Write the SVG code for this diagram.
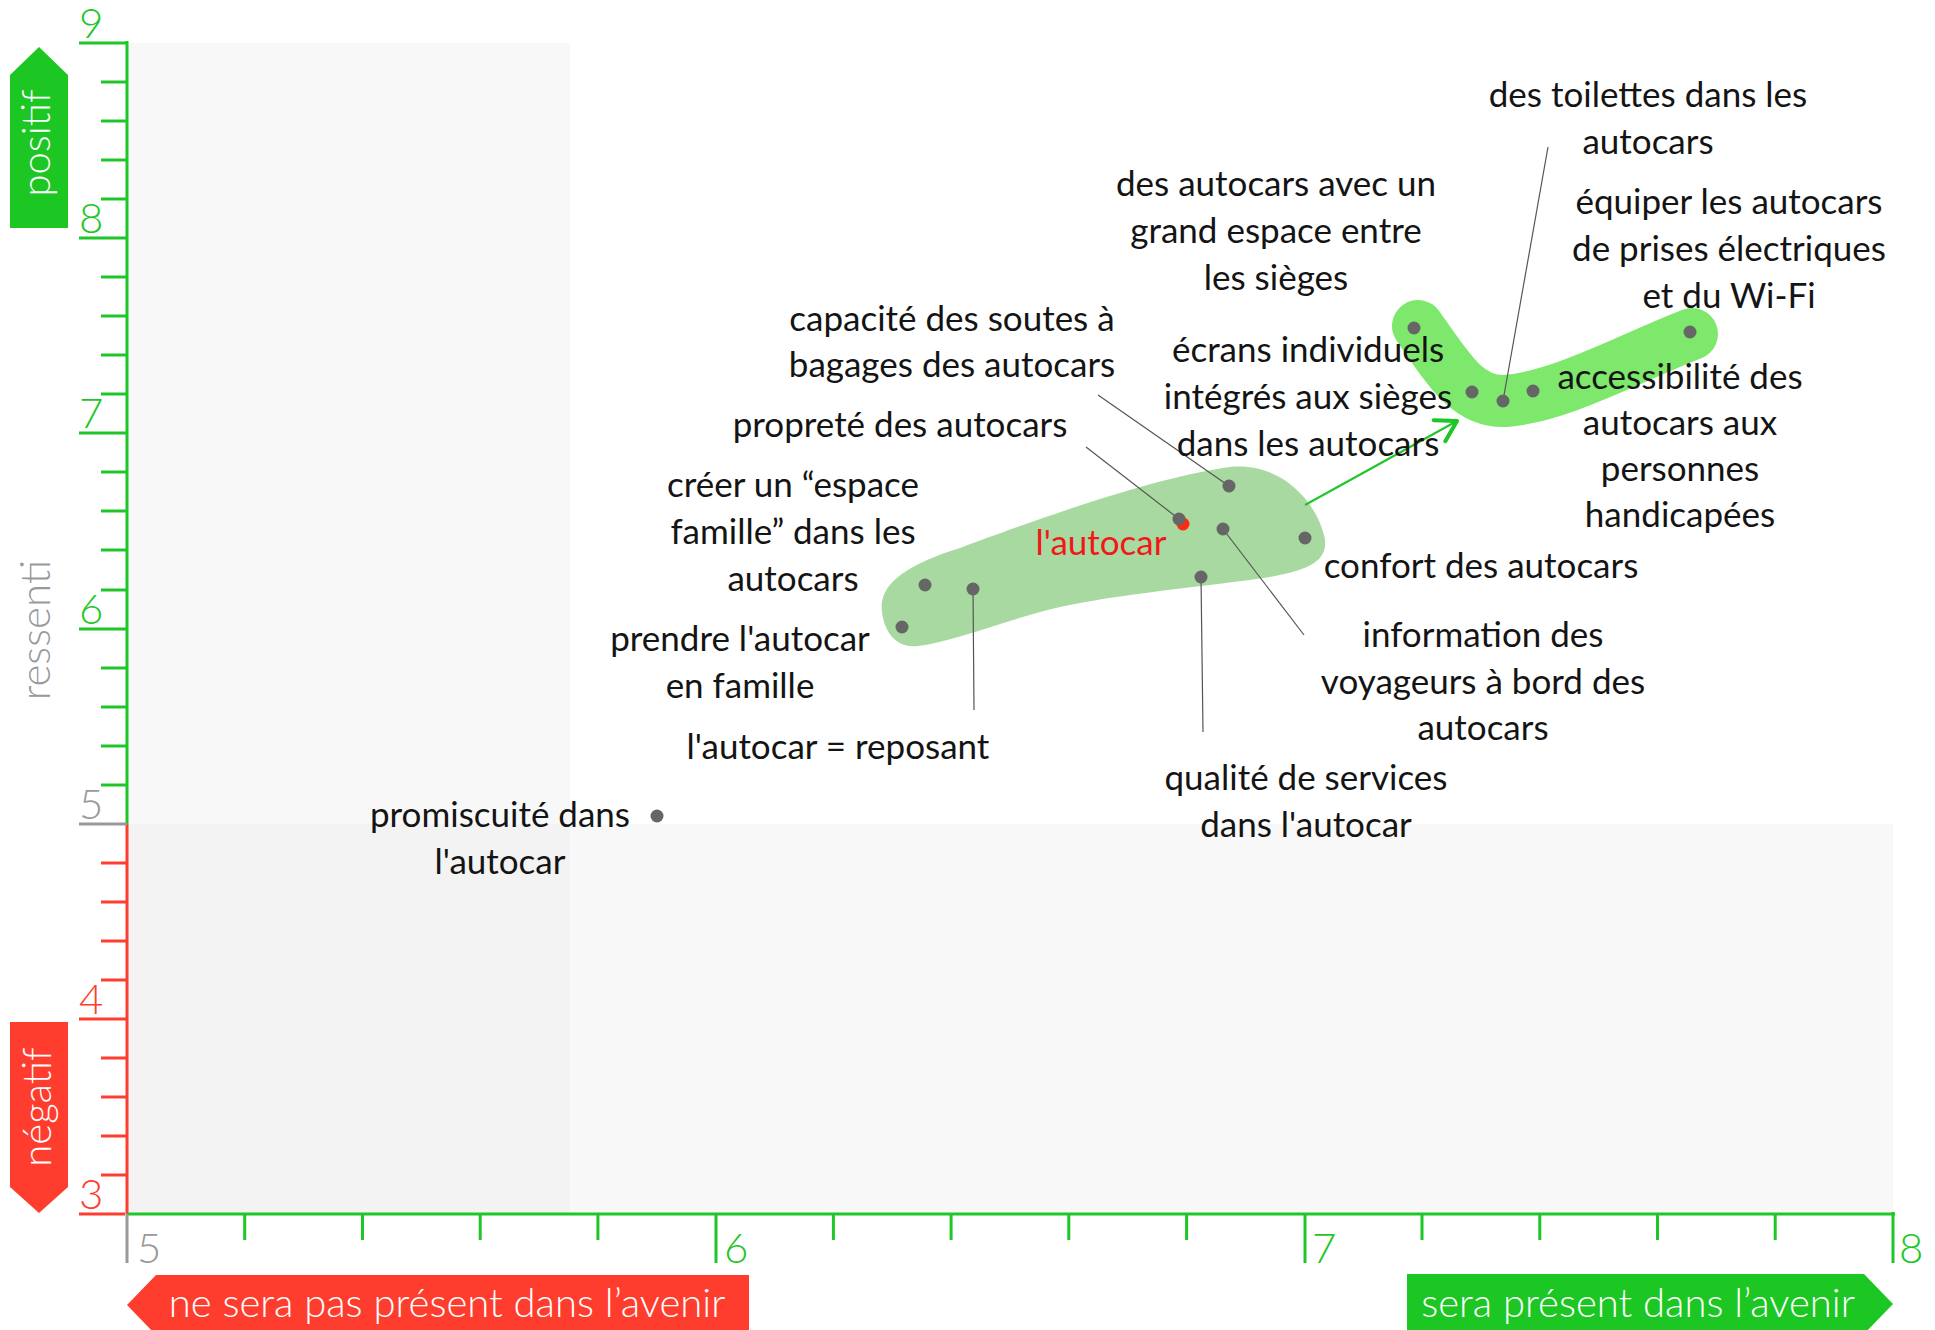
<svg xmlns="http://www.w3.org/2000/svg" width="1935" height="1330" viewBox="0 0 1935 1330">
<defs>
<style>
.lbl{font-family:Lato,"Liberation Sans",sans-serif;font-size:35px;fill:#141414;text-anchor:middle}
.ax{font-family:Lato,"Liberation Sans",sans-serif;font-weight:300;font-size:42px}
.g{fill:#1EC627}.r{fill:#FF3D2E}.gr{fill:#999}
.tg{stroke:#1EC627;stroke-width:3}.tr{stroke:#FF3D2E;stroke-width:3}.tgr{stroke:#999;stroke-width:3}
.lead{stroke:#555;stroke-width:1.2;fill:none}
.dot{fill:#666}
.band{font-family:Lato,"Liberation Sans",sans-serif;font-weight:300;font-size:40px;fill:#fff}
</style>
<marker id="ah" viewBox="0 0 30 30" refX="26" refY="15" markerWidth="30" markerHeight="30" markerUnits="userSpaceOnUse" orient="auto">
<path d="M6,3 L26,15 L6,27" fill="none" stroke="#1EC627" stroke-width="4" stroke-linecap="round" stroke-linejoin="round"/>
</marker>
</defs>
<rect width="1935" height="1330" fill="#fff"/>
<g id="background">
<rect x="127" y="43" width="443" height="781" fill="#F8F8F8"/>
<rect x="570" y="824" width="1323" height="390" fill="#F8F8F8"/>
<rect x="127" y="824" width="443" height="390" fill="#F3F3F3"/>
</g>
<g id="clusters">
<path id="cluster-autocar" d="M882,612 C878,585 905,565 960,548 C1030,522 1150,478 1230,467 C1280,462 1315,500 1324,535 C1332,565 1300,573 1250,580 C1170,590 1090,598 1040,612 C990,626 950,642 918,646 C895,649 884,630 882,612 Z" fill="#A8D9A0"/>
<path id="cluster-future" d="M1418,326 C1450,372 1468,402 1505,401 C1560,397 1630,358 1692,334" fill="none" stroke="#7DE86C" stroke-width="52" stroke-linecap="round" stroke-linejoin="round"/>
</g>
<g id="axes">
<line x1="127" y1="41" x2="127" y2="824" class="tg"/>
<line x1="127" y1="824" x2="127" y2="1214" class="tr"/>
<line x1="127" y1="1214" x2="1895" y2="1214" class="tg"/>
<g class="tg">
<line x1="79" y1="43" x2="127" y2="43"/><line x1="101" y1="82" x2="127" y2="82"/><line x1="101" y1="121" x2="127" y2="121"/><line x1="101" y1="160" x2="127" y2="160"/><line x1="101" y1="199" x2="127" y2="199"/>
<line x1="79" y1="238" x2="127" y2="238"/><line x1="101" y1="277" x2="127" y2="277"/><line x1="101" y1="316" x2="127" y2="316"/><line x1="101" y1="355" x2="127" y2="355"/><line x1="101" y1="394" x2="127" y2="394"/>
<line x1="79" y1="433" x2="127" y2="433"/><line x1="101" y1="472" x2="127" y2="472"/><line x1="101" y1="511" x2="127" y2="511"/><line x1="101" y1="550" x2="127" y2="550"/><line x1="101" y1="590" x2="127" y2="590"/>
<line x1="79" y1="629" x2="127" y2="629"/><line x1="101" y1="668" x2="127" y2="668"/><line x1="101" y1="707" x2="127" y2="707"/><line x1="101" y1="746" x2="127" y2="746"/><line x1="101" y1="785" x2="127" y2="785"/>
</g>
<line x1="79" y1="824" x2="127" y2="824" class="tgr"/>
<g class="tr">
<line x1="101" y1="863" x2="127" y2="863"/><line x1="101" y1="902" x2="127" y2="902"/><line x1="101" y1="941" x2="127" y2="941"/><line x1="101" y1="980" x2="127" y2="980"/>
<line x1="79" y1="1019" x2="127" y2="1019"/><line x1="101" y1="1058" x2="127" y2="1058"/><line x1="101" y1="1097" x2="127" y2="1097"/><line x1="101" y1="1136" x2="127" y2="1136"/><line x1="101" y1="1175" x2="127" y2="1175"/>
<line x1="79" y1="1214" x2="125" y2="1214"/>
</g>
<line x1="127" y1="1214" x2="127" y2="1263" class="tgr"/>
<g class="tg">
<line x1="244.7" y1="1214" x2="244.7" y2="1240"/><line x1="362.5" y1="1214" x2="362.5" y2="1240"/><line x1="480.2" y1="1214" x2="480.2" y2="1240"/><line x1="597.9" y1="1214" x2="597.9" y2="1240"/>
<line x1="716" y1="1214" x2="716" y2="1263"/>
<line x1="833.4" y1="1214" x2="833.4" y2="1240"/><line x1="951.1" y1="1214" x2="951.1" y2="1240"/><line x1="1068.8" y1="1214" x2="1068.8" y2="1240"/><line x1="1186.6" y1="1214" x2="1186.6" y2="1240"/>
<line x1="1305" y1="1214" x2="1305" y2="1263"/>
<line x1="1422" y1="1214" x2="1422" y2="1240"/><line x1="1539.8" y1="1214" x2="1539.8" y2="1240"/><line x1="1657.5" y1="1214" x2="1657.5" y2="1240"/><line x1="1775.2" y1="1214" x2="1775.2" y2="1240"/>
<line x1="1893" y1="1212" x2="1893" y2="1263"/>
</g>
<text class="ax g" x="79" y="38">9</text>
<text class="ax g" x="79" y="233">8</text>
<text class="ax g" x="79" y="428">7</text>
<text class="ax g" x="79" y="624">6</text>
<text class="ax gr" x="79" y="819">5</text>
<text class="ax r" x="79" y="1014">4</text>
<text class="ax r" x="79" y="1209">3</text>
<text class="ax gr" x="137" y="1263">5</text>
<text class="ax g" x="724" y="1263">6</text>
<text class="ax g" x="1312" y="1263">7</text>
<text class="ax g" x="1899" y="1263">8</text>
<text class="ax gr" transform="translate(50,630) rotate(-90)" text-anchor="middle">ressenti</text>
</g>
<g id="scale-positif">
<polygon points="10,75 39,47 68,75 68,228 10,228" fill="#1CC724"/>
<text class="band" transform="translate(50,143) rotate(-90)" text-anchor="middle" font-size="42">positif</text>
</g>
<g id="scale-negatif">
<polygon points="10,1022 68,1022 68,1187 39,1213 10,1187" fill="#FF3D2E"/>
<text class="band" transform="translate(51,1107) rotate(-90)" text-anchor="middle" font-size="42">négatif</text>
</g>
<g id="scale-absent">
<polygon points="127,1305 156,1275 749,1275 749,1335 156,1335" fill="#FF3D2E"/>
<text class="band" x="447" y="1317" text-anchor="middle">ne sera pas présent dans l’avenir</text>
</g>
<g id="scale-present">
<polygon points="1407,1274 1864,1274 1893,1304 1864,1334 1407,1334" fill="#1CC724"/>
<text class="band" x="1638" y="1317" text-anchor="middle">sera présent dans l’avenir</text>
</g>
<g id="connectors">
<line class="lead" x1="1098" y1="395" x2="1229" y2="486"/>
<line class="lead" x1="1086" y1="447" x2="1179" y2="519"/>
<line class="lead" x1="1223" y1="529" x2="1304" y2="635"/>
<line class="lead" x1="1201" y1="577" x2="1203" y2="732"/>
<line class="lead" x1="973" y1="589" x2="974" y2="710"/>
<line class="lead" x1="1548" y1="147" x2="1503" y2="401"/>
<line x1="1305" y1="505" x2="1457" y2="421" stroke="#1EC627" stroke-width="2" marker-end="url(#ah)"/>
</g>
<g id="node-autocar"><circle cx="1183" cy="524" r="6.5" fill="#FF2A12"/><text class="lbl" x="1101" y="555" style="fill:#F01818">l'autocar</text></g>
<g id="node-capacite"><circle class="dot" cx="1229" cy="486" r="6.5"/><text class="lbl" x="952" y="331">capacité des soutes à<tspan x="952" dy="46">bagages des autocars</tspan></text></g>
<g id="node-proprete"><circle class="dot" cx="1179" cy="519" r="6.5"/><text class="lbl" x="900" y="437">propreté des autocars</text></g>
<g id="node-information"><circle class="dot" cx="1223" cy="529" r="6.5"/><text class="lbl" x="1483" y="647">information des<tspan x="1483" dy="46.5">voyageurs à bord des</tspan><tspan x="1483" dy="46.5">autocars</tspan></text></g>
<g id="node-qualite"><circle class="dot" cx="1201" cy="577" r="6.5"/><text class="lbl" x="1306" y="790">qualité de services<tspan x="1306" dy="47">dans l'autocar</tspan></text></g>
<g id="node-confort"><circle class="dot" cx="1305" cy="538" r="6.5"/><text class="lbl" x="1481" y="578">confort des autocars</text></g>
<g id="node-espace-famille"><circle class="dot" cx="925" cy="585" r="6.5"/><text class="lbl" x="793" y="497">créer un “espace<tspan x="793" dy="47">famille” dans les</tspan><tspan x="793" dy="47">autocars</tspan></text></g>
<g id="node-reposant"><circle class="dot" cx="973" cy="589" r="6.5"/><text class="lbl" x="838" y="759">l'autocar = reposant</text></g>
<g id="node-famille"><circle class="dot" cx="902" cy="627" r="6.5"/><text class="lbl" x="740" y="651">prendre l'autocar<tspan x="740" dy="47">en famille</tspan></text></g>
<g id="node-promiscuite"><circle class="dot" cx="657" cy="816" r="6.5"/><text class="lbl" x="500" y="827">promiscuité dans<tspan x="500" dy="47">l'autocar</tspan></text></g>
<g id="node-espace-sieges"><circle class="dot" cx="1414" cy="328" r="6.5"/><text class="lbl" x="1276" y="196">des autocars avec un<tspan x="1276" dy="47">grand espace entre</tspan><tspan x="1276" dy="47">les sièges</tspan></text></g>
<g id="node-ecrans"><circle class="dot" cx="1472" cy="392" r="6.5"/><text class="lbl" x="1308" y="362">écrans individuels<tspan x="1308" dy="47">intégrés aux sièges</tspan><tspan x="1308" dy="47">dans les autocars</tspan></text></g>
<g id="node-toilettes"><circle class="dot" cx="1503" cy="401" r="6.5"/><text class="lbl" x="1648" y="107">des toilettes dans les<tspan x="1648" dy="47">autocars</tspan></text></g>
<g id="node-accessibilite"><circle class="dot" cx="1533" cy="391" r="6.5"/><text class="lbl" x="1680" y="389">accessibilité des<tspan x="1680" dy="46">autocars aux</tspan><tspan x="1680" dy="46">personnes</tspan><tspan x="1680" dy="46">handicapées</tspan></text></g>
<g id="node-prises"><circle class="dot" cx="1690" cy="332" r="6.5"/><text class="lbl" x="1729" y="214">équiper les autocars<tspan x="1729" dy="47">de prises électriques</tspan><tspan x="1729" dy="47">et du Wi-Fi</tspan></text></g>
</svg>
